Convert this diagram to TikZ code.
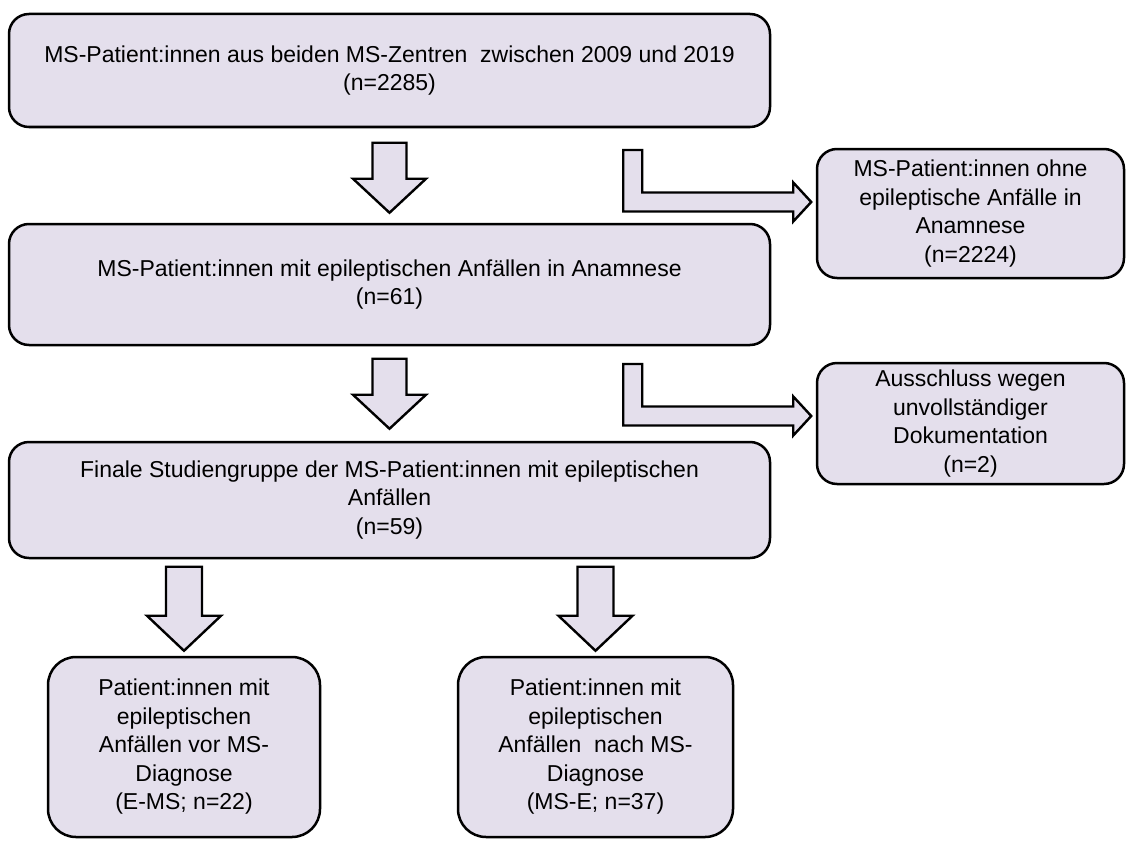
\documentclass[tikz,border=0pt]{standalone}
\usepackage{fontspec}
\setmainfont{Liberation Sans}
\usetikzlibrary{calc}
\definecolor{boxfill}{HTML}{E4DFEC}
\tikzset{
  box/.style={draw=black, line width=2.5pt, fill=boxfill, rounded corners=20pt,
    align=center, inner sep=0pt, text=black,
    font=\fontsize{23}{28.5}\selectfont},
  lowbox/.style={box, rounded corners=28pt},
  blk/.style={draw=black, line width=2.4pt, fill=boxfill, line join=miter}
}
\begin{document}
\begin{tikzpicture}[x=1pt,y=-1pt]
\useasboundingbox (0,0) rectangle (1126,840);
\node[box, minimum width=761pt, minimum height=113pt] (b1) at (389.5,70.5)
  {MS-Patient:innen aus beiden MS-Zentren\ \ zwischen 2009 und 2019\\(n=2285)};
\node[box, minimum width=761pt, minimum height=121pt] (b2) at (389.5,284.5)
  {MS-Patient:innen mit epileptischen Anfällen in Anamnese\\(n=61)};
\node[box, minimum width=761pt, minimum height=116pt] (b3) at (389.5,500)
  {Finale Studiengruppe der MS-Patient:innen mit epileptischen\\Anfällen\\(n=59)};
\node[box, minimum width=307pt, minimum height=129pt] (r1) at (970.5,213.5)
  {MS-Patient:innen ohne\\epileptische Anfälle in\\Anamnese\\(n=2224)};
\node[box, minimum width=307pt, minimum height=121pt] (r2) at (970.5,423.5)
  {Ausschluss wegen\\unvollständiger\\Dokumentation\\(n=2)};
\node[lowbox, minimum width=272pt, minimum height=180pt] (bl) at (184,747)
  {Patient:innen mit\\epileptischen\\Anfällen vor MS-\\Diagnose\\(E-MS; n=22)};
\node[lowbox, minimum width=275pt, minimum height=180pt] (bc) at (595.5,747)
  {Patient:innen mit\\epileptischen\\Anfällen\ \ nach MS-\\Diagnose\\(MS-E; n=37)};
% tips of block arrows
\coordinate (d1) at ($(b2.north)+(0,-10)$);
\coordinate (d2) at ($(b3.north)+(0,-12)$);
\coordinate (d3) at ($(bl.north)+(0,-5)$);
\coordinate (d4) at ($(bc.north)+(0,-5)$);
\coordinate (t1) at ($(r1.west)+(-4.5,-11.5)$);
\coordinate (t2) at ($(r2.west)+(-4.5,-7.5)$);
% down arrows
\foreach \t in {d1,d2}{
  \draw[blk, shift={(\t)}] (-17,-70) -- (17,-70) -- (17,-34) -- (36.5,-34) -- (0,0)
    -- (-36.5,-34) -- (-17,-34) -- cycle;
}
\foreach \t in {d3,d4}{
  \draw[blk, shift={(\t)}] (-18,-84) -- (18,-84) -- (18,-35) -- (37,-35) -- (0,0)
    -- (-37,-35) -- (-18,-35) -- cycle;
}
% bent arrows
\foreach \t in {t1,t2}{
  \draw[blk, shift={(\t)}] (-188,-52) -- (-169,-52) -- (-169,-9.5) -- (-18,-9.5)
    -- (-18,-19.5) -- (0,0) -- (-18,19.5) -- (-18,9.5) -- (-188,9.5) -- cycle;
}
\end{tikzpicture}
\end{document}
